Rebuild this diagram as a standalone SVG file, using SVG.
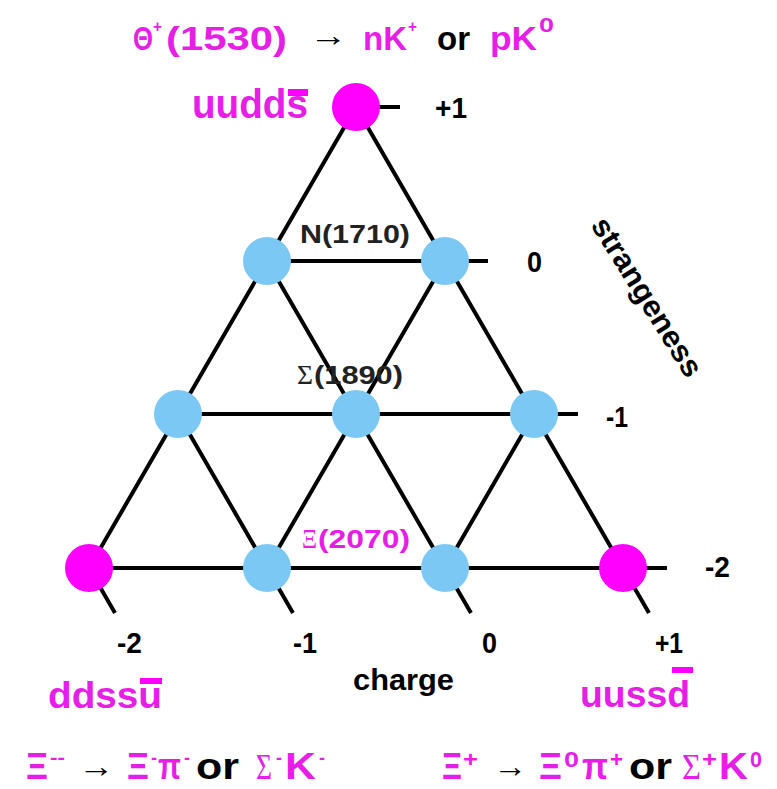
<svg xmlns="http://www.w3.org/2000/svg" width="777" height="789" viewBox="0 0 777 789">
<style>
.t{font-family:"Liberation Sans",Arial,sans-serif;font-weight:bold}
.m{fill:#E61EE6}
.k{fill:#000}
.g{fill:#222}
.s{font-family:"Liberation Serif","Times New Roman",serif;font-weight:normal}
.r{font-family:"Liberation Sans",Arial,sans-serif;font-weight:normal}
.mag{fill:#FF00FF}
.blue{fill:#7CC8F5}
.ln{stroke:#000;stroke-width:4;fill:none;stroke-linecap:butt}
</style>
<rect width="777" height="789" fill="#fff"/>

<g id="connectors">
<path class="ln" d="M356 107H400M267 261H488M178 414H578M89 568H667"/>
<path class="ln" d="M356 107L89 568M445 261L267 568M534 414L445 568"/>
<path class="ln" d="M356 107L649 613M267 261L471 613M178 414L293 613M89 568L115 613"/>
</g>

<g id="theta"><circle class="mag" cx="356" cy="107" r="24"/></g>
<g id="n1"><circle class="blue" cx="267" cy="261" r="24"/></g>
<g id="n2"><circle class="blue" cx="445" cy="261" r="24"/></g>
<g id="s1"><circle class="blue" cx="178" cy="414" r="24"/></g>
<g id="s2"><circle class="blue" cx="356" cy="414" r="24"/></g>
<g id="s3"><circle class="blue" cx="534" cy="414" r="24"/></g>
<g id="xmm"><circle class="mag" cx="89" cy="568" r="24"/></g>
<g id="x1"><circle class="blue" cx="267" cy="568" r="24"/></g>
<g id="x2"><circle class="blue" cx="445" cy="568" r="24"/></g>
<g id="xpp"><circle class="mag" cx="623" cy="568" r="24"/></g>

<g id="title">
<text class="t m" x="133" y="50" font-size="34" textLength="20" lengthAdjust="spacingAndGlyphs">Θ</text>
<text class="t m" x="153" y="32" font-size="17" textLength="9" lengthAdjust="spacingAndGlyphs">+</text>
<text class="t m" x="166" y="50" font-size="34" textLength="121" lengthAdjust="spacingAndGlyphs">(1530)</text>
<text class="r k" x="309" y="46" font-size="32" textLength="38" lengthAdjust="spacingAndGlyphs">→</text>
<text class="t m" x="363" y="50" font-size="34" textLength="44" lengthAdjust="spacingAndGlyphs">nK</text>
<text class="t m" x="408" y="32" font-size="17" textLength="9" lengthAdjust="spacingAndGlyphs">+</text>
<text class="t k" x="437" y="50" font-size="34" textLength="33" lengthAdjust="spacingAndGlyphs">or</text>
<text class="t m" x="490" y="50" font-size="34" textLength="47" lengthAdjust="spacingAndGlyphs">pK</text>
<text class="t m" x="539" y="32" font-size="20" textLength="15" lengthAdjust="spacingAndGlyphs">0</text>
</g>

<g id="quark-labels">
<text class="t m" x="192" y="118" font-size="40" textLength="116" lengthAdjust="spacingAndGlyphs">uudds</text>
<rect class="mag" x="288" y="89" width="20" height="7"/>
<text class="t m" x="48" y="708" font-size="36" textLength="114" lengthAdjust="spacingAndGlyphs">ddssu</text>
<rect class="mag" x="140" y="678" width="22" height="6"/>
<text class="t m" x="580" y="707" font-size="36" textLength="110" lengthAdjust="spacingAndGlyphs">uussd</text>
<rect class="mag" x="672" y="667" width="21" height="6"/>
</g>

<g id="mass-labels">
<text class="t g" x="300" y="243" font-size="25" textLength="110" lengthAdjust="spacingAndGlyphs">N(1710)</text>
<text class="s g" x="297" y="384" font-size="27" textLength="16" lengthAdjust="spacingAndGlyphs">Σ</text>
<text class="t g" x="314" y="384" font-size="25" textLength="89" lengthAdjust="spacingAndGlyphs">(1890)</text>
<text class="s m" x="302" y="548" font-size="27" textLength="15" lengthAdjust="spacingAndGlyphs">Ξ</text>
<text class="t m" x="318" y="548" font-size="25" textLength="92" lengthAdjust="spacingAndGlyphs">(2070)</text>
</g>

<g id="strangeness-axis">
<text class="t k" x="435" y="118" font-size="30" textLength="32" lengthAdjust="spacingAndGlyphs">+1</text>
<text class="t k" x="527" y="272" font-size="30" textLength="15" lengthAdjust="spacingAndGlyphs">0</text>
<text class="t k" x="606" y="427" font-size="30" textLength="22" lengthAdjust="spacingAndGlyphs">-1</text>
<text class="t k" x="705" y="577" font-size="30" textLength="25" lengthAdjust="spacingAndGlyphs">-2</text>
<text class="t k" transform="translate(647,297) rotate(58)" x="0" y="10" font-size="30" text-anchor="middle" textLength="182" lengthAdjust="spacingAndGlyphs">strangeness</text>
</g>

<g id="charge-axis">
<text class="t k" x="117" y="653" font-size="30" textLength="25" lengthAdjust="spacingAndGlyphs">-2</text>
<text class="t k" x="293" y="653" font-size="30" textLength="24" lengthAdjust="spacingAndGlyphs">-1</text>
<text class="t k" x="482" y="653" font-size="30" textLength="15" lengthAdjust="spacingAndGlyphs">0</text>
<text class="t k" x="655" y="653" font-size="30" textLength="28" lengthAdjust="spacingAndGlyphs">+1</text>
<text class="t k" x="353" y="690" font-size="30" textLength="101" lengthAdjust="spacingAndGlyphs">charge</text>
</g>

<g id="decay-left">
<text class="t m" x="26" y="779" font-size="36" textLength="22" lengthAdjust="spacingAndGlyphs">Ξ</text>
<text class="t m" x="50" y="764" font-size="18" textLength="15" lengthAdjust="spacingAndGlyphs">--</text>
<text class="r k" x="78" y="777" font-size="32" textLength="36" lengthAdjust="spacingAndGlyphs">→</text>
<text class="t m" x="127" y="779" font-size="36" textLength="22" lengthAdjust="spacingAndGlyphs">Ξ</text>
<text class="t m" x="151" y="764" font-size="18" textLength="6" lengthAdjust="spacingAndGlyphs">-</text>
<text class="t m" x="158" y="779" font-size="36" textLength="23" lengthAdjust="spacingAndGlyphs">π</text>
<text class="t m" x="184" y="764" font-size="18" textLength="6" lengthAdjust="spacingAndGlyphs">-</text>
<text class="t k" x="196" y="779" font-size="36" textLength="43" lengthAdjust="spacingAndGlyphs">or</text>
<text class="s m" x="256" y="779" font-size="36" textLength="16" lengthAdjust="spacingAndGlyphs">Σ</text>
<text class="t m" x="276" y="764" font-size="18" textLength="6" lengthAdjust="spacingAndGlyphs">-</text>
<text class="t m" x="285" y="779" font-size="36" textLength="31" lengthAdjust="spacingAndGlyphs">K</text>
<text class="t m" x="319" y="764" font-size="18" textLength="6" lengthAdjust="spacingAndGlyphs">-</text>
</g>

<g id="decay-right">
<text class="t m" x="442" y="779" font-size="36" textLength="20" lengthAdjust="spacingAndGlyphs">Ξ</text>
<text class="t m" x="463" y="767" font-size="22" textLength="15" lengthAdjust="spacingAndGlyphs">+</text>
<text class="r k" x="493" y="777" font-size="32" textLength="34" lengthAdjust="spacingAndGlyphs">→</text>
<text class="t m" x="539" y="779" font-size="36" textLength="23" lengthAdjust="spacingAndGlyphs">Ξ</text>
<text class="t m" x="564" y="767" font-size="22" textLength="15" lengthAdjust="spacingAndGlyphs">0</text>
<text class="t m" x="582" y="779" font-size="36" textLength="26" lengthAdjust="spacingAndGlyphs">π</text>
<text class="t m" x="610" y="767" font-size="22" textLength="13" lengthAdjust="spacingAndGlyphs">+</text>
<text class="t k" x="629" y="779" font-size="36" textLength="43" lengthAdjust="spacingAndGlyphs">or</text>
<text class="s m" x="682" y="779" font-size="36" textLength="19" lengthAdjust="spacingAndGlyphs">Σ</text>
<text class="t m" x="702" y="767" font-size="22" textLength="15" lengthAdjust="spacingAndGlyphs">+</text>
<text class="t m" x="719" y="779" font-size="36" textLength="29" lengthAdjust="spacingAndGlyphs">K</text>
<text class="t m" x="750" y="767" font-size="22" textLength="12" lengthAdjust="spacingAndGlyphs">0</text>
</g>
</svg>
